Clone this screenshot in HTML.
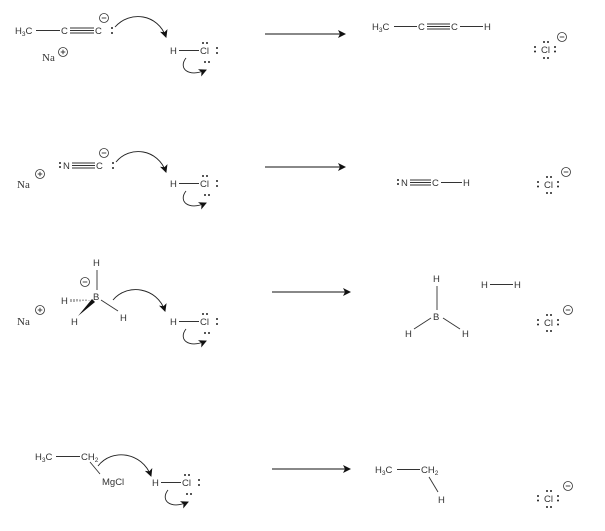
<!DOCTYPE html>
<html><head><style>
html,body{margin:0;padding:0;background:#fff;}
svg{display:block;}
text{font-family:"Liberation Sans",sans-serif;font-size:9.5px;fill:#333;}
text.na{font-family:"Liberation Serif",serif;font-size:11px;}
.sub{font-size:6.5px;}
</style></head><body>
<svg width="605" height="531" viewBox="0 0 605 531" xmlns="http://www.w3.org/2000/svg">
<defs>
<marker id="ah" markerWidth="8" markerHeight="8" refX="7" refY="4" orient="auto" markerUnits="userSpaceOnUse">
<path d="M0,0 L8,4 L0,8 L2,4 Z" fill="#111"/></marker>
<g id="cl">
<text x="0" y="0">Cl</text>
<circle cx="3" cy="-11" r="1" fill="#222"/><circle cx="7" cy="-11" r="1" fill="#222"/>
<circle cx="3" cy="5" r="1" fill="#222"/><circle cx="7" cy="5" r="1" fill="#222"/>
<circle cx="-6" cy="-6" r="1" fill="#222"/><circle cx="-6" cy="-1.5" r="1" fill="#222"/>
<circle cx="14" cy="-6" r="1" fill="#222"/><circle cx="14" cy="-1.5" r="1" fill="#222"/>
</g>
<g id="minus"><circle cx="0" cy="0" r="4.5" fill="none" stroke="#333" stroke-width="0.8"/><line x1="-2.3" y1="0" x2="2.3" y2="0" stroke="#333" stroke-width="0.9"/></g>
<g id="plus"><circle cx="0" cy="0" r="4.5" fill="none" stroke="#333" stroke-width="0.8"/><line x1="-2.3" y1="0" x2="2.3" y2="0" stroke="#333" stroke-width="0.9"/><line x1="0" y1="-2.3" x2="0" y2="2.3" stroke="#333" stroke-width="0.9"/></g>
<g id="hcl">
<text x="0" y="0">H</text>
<line x1="9" y1="-3.5" x2="29" y2="-3.5" stroke="#333" stroke-width="0.9"/>
<text x="30" y="0">Cl</text>
<circle cx="33" cy="-11" r="1" fill="#222"/><circle cx="37" cy="-11" r="1" fill="#222"/>
<circle cx="35" cy="8" r="1" fill="#222"/><circle cx="39" cy="8" r="1" fill="#222"/>
<circle cx="47" cy="-6" r="1" fill="#222"/><circle cx="47" cy="-1" r="1" fill="#222"/>
<path d="M16,4 C8,14 18,24 36,16" fill="none" stroke="#222" stroke-width="0.9" marker-end="url(#ah)"/>
</g>
</defs>

<!-- Row 1 -->
<text x="15" y="34">H<tspan class="sub" dy="2">3</tspan><tspan dy="-2">C</tspan></text>
<line x1="36" y1="30.5" x2="60" y2="30.5" stroke="#333" stroke-width="0.9"/>
<text x="61" y="34">C</text>
<line x1="70" y1="28" x2="94" y2="28" stroke="#333" stroke-width="0.9"/>
<line x1="70" y1="30.5" x2="94" y2="30.5" stroke="#333" stroke-width="0.9"/>
<line x1="70" y1="33" x2="94" y2="33" stroke="#333" stroke-width="0.9"/>
<text x="95" y="34">C</text>
<circle cx="112" cy="28" r="1" fill="#222"/><circle cx="112" cy="33" r="1" fill="#222"/>
<use href="#minus" x="104" y="18"/>
<text class="na" x="42" y="61" style="font-family:'Liberation Serif',serif">Na</text>
<use href="#plus" x="63" y="52"/>
<path d="M115,27 C130,10 158,14 166,37" fill="none" stroke="#222" stroke-width="0.9" marker-end="url(#ah)"/>
<use href="#hcl" x="170" y="54"/>
<line x1="265" y1="34" x2="345" y2="34" stroke="#111" stroke-width="0.9" marker-end="url(#ah)"/>
<text x="372" y="30">H<tspan class="sub" dy="2">3</tspan><tspan dy="-2">C</tspan></text>
<line x1="394" y1="26.5" x2="417" y2="26.5" stroke="#333" stroke-width="0.9"/>
<text x="418" y="30">C</text>
<line x1="427" y1="24" x2="450" y2="24" stroke="#333" stroke-width="0.9"/>
<line x1="427" y1="26.5" x2="450" y2="26.5" stroke="#333" stroke-width="0.9"/>
<line x1="427" y1="29" x2="450" y2="29" stroke="#333" stroke-width="0.9"/>
<text x="451" y="30">C</text>
<line x1="460" y1="26.5" x2="483" y2="26.5" stroke="#333" stroke-width="0.9"/>
<text x="484" y="30">H</text>
<use href="#cl" x="541" y="53"/>
<use href="#minus" x="562" y="37"/>

<!-- Row 2 -->
<text class="na" x="17" y="188" style="font-family:'Liberation Serif',serif">Na</text>
<use href="#plus" x="40" y="174"/>
<circle cx="60" cy="163" r="1" fill="#222"/><circle cx="60" cy="167" r="1" fill="#222"/>
<text x="63" y="169">N</text>
<line x1="72" y1="163" x2="95" y2="163" stroke="#333" stroke-width="0.9"/>
<line x1="72" y1="165.5" x2="95" y2="165.5" stroke="#333" stroke-width="0.9"/>
<line x1="72" y1="168" x2="95" y2="168" stroke="#333" stroke-width="0.9"/>
<text x="96" y="169">C</text>
<circle cx="113" cy="163" r="1" fill="#222"/><circle cx="113" cy="168" r="1" fill="#222"/>
<use href="#minus" x="104" y="153"/>
<path d="M116,162 C130,145 158,149 166,172" fill="none" stroke="#222" stroke-width="0.9" marker-end="url(#ah)"/>
<use href="#hcl" x="170" y="187"/>
<line x1="265" y1="167" x2="345" y2="167" stroke="#111" stroke-width="0.9" marker-end="url(#ah)"/>
<circle cx="398" cy="180" r="1" fill="#222"/><circle cx="398" cy="184" r="1" fill="#222"/>
<text x="401" y="186">N</text>
<line x1="410" y1="180" x2="431" y2="180" stroke="#333" stroke-width="0.9"/>
<line x1="410" y1="182.5" x2="431" y2="182.5" stroke="#333" stroke-width="0.9"/>
<line x1="410" y1="185" x2="431" y2="185" stroke="#333" stroke-width="0.9"/>
<text x="432" y="186">C</text>
<line x1="441" y1="182.5" x2="462" y2="182.5" stroke="#333" stroke-width="0.9"/>
<text x="463" y="186">H</text>
<use href="#cl" x="544" y="188"/>
<use href="#minus" x="566" y="172"/>

<!-- Row 3 -->
<text class="na" x="17" y="325" style="font-family:'Liberation Serif',serif">Na</text>
<use href="#plus" x="40" y="310"/>
<text x="93" y="266">H</text>
<line x1="97" y1="270" x2="97" y2="290" stroke="#333" stroke-width="0.9"/>
<text x="93" y="300">B</text>
<use href="#minus" x="85" y="282"/>
<text x="61" y="304">H</text>
<g stroke="#333" stroke-width="0.8">
<line x1="71" y1="299" x2="71" y2="302"/><line x1="74" y1="299" x2="74" y2="302"/><line x1="77" y1="299" x2="77" y2="301.5"/><line x1="80" y1="299.5" x2="80" y2="301.5"/><line x1="83" y1="299.5" x2="83" y2="301"/><line x1="86" y1="299.5" x2="86" y2="301"/><line x1="89" y1="300" x2="89" y2="300.5"/>
</g>
<path d="M78,316 L92,299 L95,302 Z" fill="#111"/>
<text x="71" y="325">H</text>
<line x1="101" y1="300" x2="118" y2="311" stroke="#333" stroke-width="0.9"/>
<text x="120" y="321">H</text>
<path d="M113,300 C127,283 157,287 165,311" fill="none" stroke="#222" stroke-width="0.9" marker-end="url(#ah)"/>
<use href="#hcl" x="170" y="325"/>
<line x1="272" y1="292" x2="350" y2="292" stroke="#111" stroke-width="0.9" marker-end="url(#ah)"/>
<text x="433" y="282">H</text>
<line x1="437" y1="286" x2="437" y2="310" stroke="#333" stroke-width="0.9"/>
<text x="433" y="320">B</text>
<line x1="431" y1="318" x2="414" y2="329" stroke="#333" stroke-width="0.9"/>
<line x1="443" y1="318" x2="460" y2="329" stroke="#333" stroke-width="0.9"/>
<text x="405" y="337">H</text>
<text x="462" y="337">H</text>
<text x="481" y="288">H</text>
<line x1="490" y1="284.5" x2="513" y2="284.5" stroke="#333" stroke-width="0.9"/>
<text x="514" y="288">H</text>
<use href="#cl" x="544" y="326"/>
<use href="#minus" x="568" y="310"/>

<!-- Row 4 -->
<text x="35" y="460">H<tspan class="sub" dy="2">3</tspan><tspan dy="-2">C</tspan></text>
<line x1="56" y1="456.5" x2="80" y2="456.5" stroke="#333" stroke-width="0.9"/>
<text x="81" y="460">CH<tspan class="sub" dy="2">2</tspan></text>
<line x1="90" y1="462" x2="100" y2="474" stroke="#333" stroke-width="0.9"/>
<text x="102" y="485">MgCl</text>
<path d="M98,466 C112,448 142,452 151,476" fill="none" stroke="#222" stroke-width="0.9" marker-end="url(#ah)"/>
<use href="#hcl" x="152" y="486"/>
<line x1="272" y1="469" x2="350" y2="469" stroke="#111" stroke-width="0.9" marker-end="url(#ah)"/>
<text x="375" y="473">H<tspan class="sub" dy="2">3</tspan><tspan dy="-2">C</tspan></text>
<line x1="397" y1="469.5" x2="420" y2="469.5" stroke="#333" stroke-width="0.9"/>
<text x="421" y="473">CH<tspan class="sub" dy="2">2</tspan></text>
<line x1="429" y1="477" x2="438" y2="492" stroke="#333" stroke-width="0.9"/>
<text x="438" y="503">H</text>
<use href="#cl" x="544" y="502"/>
<use href="#minus" x="568" y="486"/>
</svg>
</body></html>
